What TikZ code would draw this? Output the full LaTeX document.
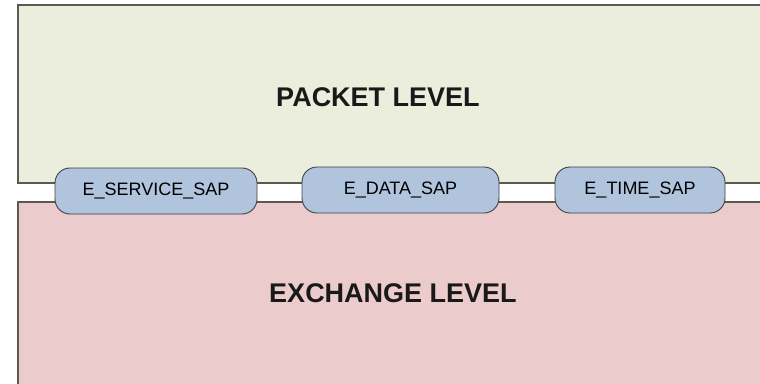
\documentclass[tikz,border=0pt]{standalone}
\usepackage{fontspec}
\setmainfont{Liberation Sans}
\usepackage{tikz}
\definecolor{pktfill}{HTML}{EBEEDD}
\definecolor{exfill}{HTML}{EBCBCB}
\definecolor{sapfill}{HTML}{B0C4DE}
\definecolor{edge}{HTML}{5A5A55}

\begin{document}
\begin{tikzpicture}[x=1pt, y=-1pt,
  level/.style={draw=edge, line width=1.6pt},
  sap/.style={draw=black!75, fill=sapfill, rounded corners=15pt, line width=0.9pt,
    minimum height=46pt, font=\fontsize{18}{20}\selectfont, inner sep=0pt},
  title/.style={font=\fontsize{27}{30}\selectfont\bfseries, text=black!90}]
 \useasboundingbox (0,0) rectangle (760,383);
 \clip (0,0) rectangle (760,383);
 \fill[pktfill] (18,5) rectangle (780,183);
 \draw[level] (780,5) -- (18,5) -- (18,183) -- (780,183);
 \fill[exfill] (18,202) rectangle (780,400);
 \draw[level] (780,202) -- (18,202) -- (18,400);
 \node[title] (pkt) at (378,97) {PACKET LEVEL};
 \node[title] (ex) at (393,293) {EXCHANGE LEVEL};
 \node[sap, minimum width=202pt] (srv) at (156,191) {E\_SERVICE\_SAP};
 \node[sap, minimum width=197pt] (dat) at (400.5,190) {E\_DATA\_SAP};
 \node[sap, minimum width=170pt] (tim) at (640,190) {E\_TIME\_SAP};
\end{tikzpicture}
\end{document}
